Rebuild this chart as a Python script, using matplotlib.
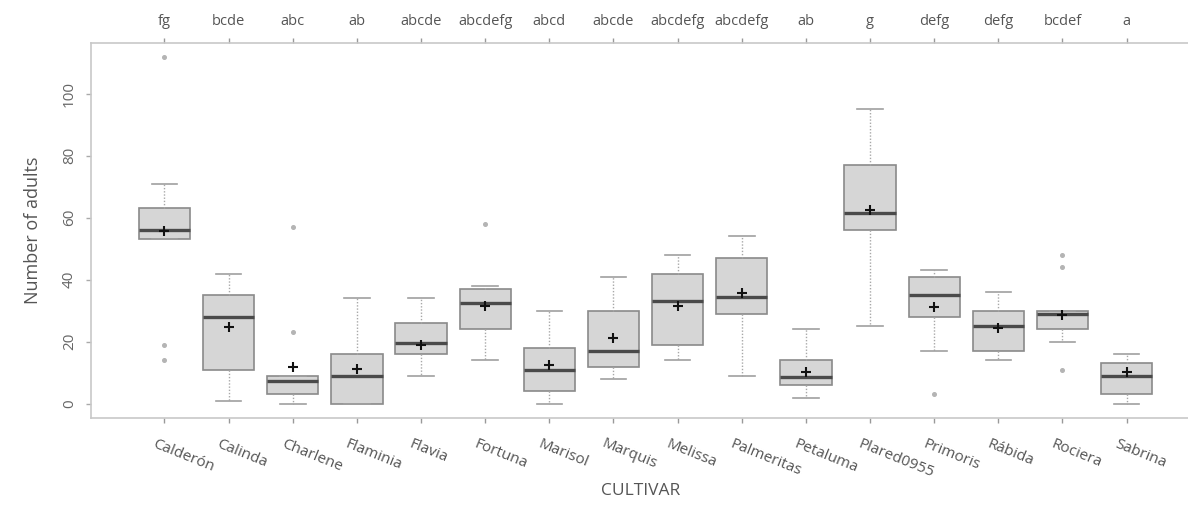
import numpy as np
import matplotlib.pyplot as plt
from matplotlib.transforms import ScaledTranslation

plt.rcParams['font.family'] = ['Open Sans', 'DejaVu Sans']

# data
cultivars = ["Calderón", "Calinda", "Charlene", "Flaminia", "Flavia", "Fortuna",
             "Marisol", "Marquis", "Melissa", "Palmeritas", "Petaluma",
             "Plared0955", "Primoris", "Rábida", "Rociera", "Sabrina"]
letters = ["fg", "bcde", "abc", "ab", "abcde", "abcdefg", "abcd", "abcde",
           "abcdefg", "abcdefg", "ab", "g", "defg", "defg", "bcdef", "a"]
whis_lo = [53, 1, 0, 0, 9, 14, 0, 8, 14, 9, 2, 25, 17, 14, 20, 0]
q1 = [53, 11, 3, 0, 16, 24, 4, 12, 19, 29, 6, 56, 28, 17, 24, 3]
med = [56, 28, 7.5, 9, 19.5, 32.5, 11, 17, 33, 34.5, 8.5, 61.5, 35, 25, 29, 9]
q3 = [63, 35, 9, 16, 26, 37, 18, 30, 42, 47, 14, 77, 41, 30, 30, 13]
whis_hi = [71, 42, 9, 34, 34, 38, 30, 41, 48, 54, 24, 95, 43, 36, 30, 16]
means = [55.6, 24.8, 11.8, 11.1, 19.0, 31.7, 12.6, 21.1, 31.6, 35.7, 10.4,
         62.6, 31.2, 24.4, 28.7, 10.1]
outliers = [[112, 19, 14], [], [57, 23], [], [], [58], [], [], [], [], [],
            [], [3], [], [48, 44, 11], []]

stats = []
for i in range(len(cultivars)):
    stats.append(dict(whislo=whis_lo[i], q1=q1[i], med=med[i], q3=q3[i],
                      whishi=whis_hi[i], fliers=outliers[i], mean=means[i]))

pos = np.arange(1, len(cultivars) + 1)

fig = plt.figure(figsize=(11.88, 5.13), dpi=100)
ax = fig.add_axes([0.0769, 0.1858, 0.933, 0.731])

edge = "#8a8a8a"
ax.bxp(stats, positions=pos, widths=0.8, patch_artist=True, showmeans=True,
       boxprops=dict(facecolor="#d6d6d6", edgecolor=edge, linewidth=1.2),
       medianprops=dict(color="#4a4a4a", linewidth=2.4),
       whiskerprops=dict(color="#a8a8a8", linewidth=1.0, linestyle=(0, (1, 1.3))),
       capprops=dict(color="#a0a0a0", linewidth=1.2),
       capwidths=0.4,
       flierprops=dict(marker="o", markersize=2.6, markerfacecolor="#b4b4b4",
                       markeredgecolor="#b4b4b4"),
       meanprops=dict(marker="+", markersize=6.5, markeredgecolor="#111111",
                      markeredgewidth=1.5))

ax.set_xlim(-0.14, 17.14)
ax.set_ylim(-4.48, 116.48)

for s in ["left", "top", "bottom"]:
    ax.spines[s].set_color("#c8c8c8")
    ax.spines[s].set_linewidth(1.2)
ax.spines["right"].set_visible(False)

ax.set_yticks([0, 20, 40, 60, 80, 100])
ax.set_yticklabels(["0", "20", "40", "60", "80", "100"], rotation=90, va="center")
ax.tick_params(axis="y", length=3.5, width=1, color="#aaaaaa", pad=7,
               labelsize=11, labelcolor="#666666")

ax.set_xticks(pos)
ax.set_xticklabels(cultivars, rotation=-22, ha="left", va="top",
                   rotation_mode="anchor")
ax.tick_params(axis="x", length=3.5, width=1, color="#999999", pad=10,
               labelsize=11, labelcolor="#555555")
offset = ScaledTranslation(-8 / 100, 0, fig.dpi_scale_trans)
for lab in ax.get_xticklabels():
    lab.set_transform(lab.get_transform() + offset)

top = ax.secondary_xaxis("top")
top.set_xticks(pos)
top.set_xticklabels(letters)
top.tick_params(length=3.5, width=1, color="#999999", pad=6, labelsize=10.5,
                labelcolor="#555555")
top.spines["top"].set_visible(False)

ax.set_ylabel("Number of adults", fontsize=13, color="#555555", labelpad=14)
fig.text(0.539, 0.043, "CULTIVAR", ha="center", va="center", fontsize=12.5,
         color="#555555")

fig.savefig("out.png", dpi=100)
